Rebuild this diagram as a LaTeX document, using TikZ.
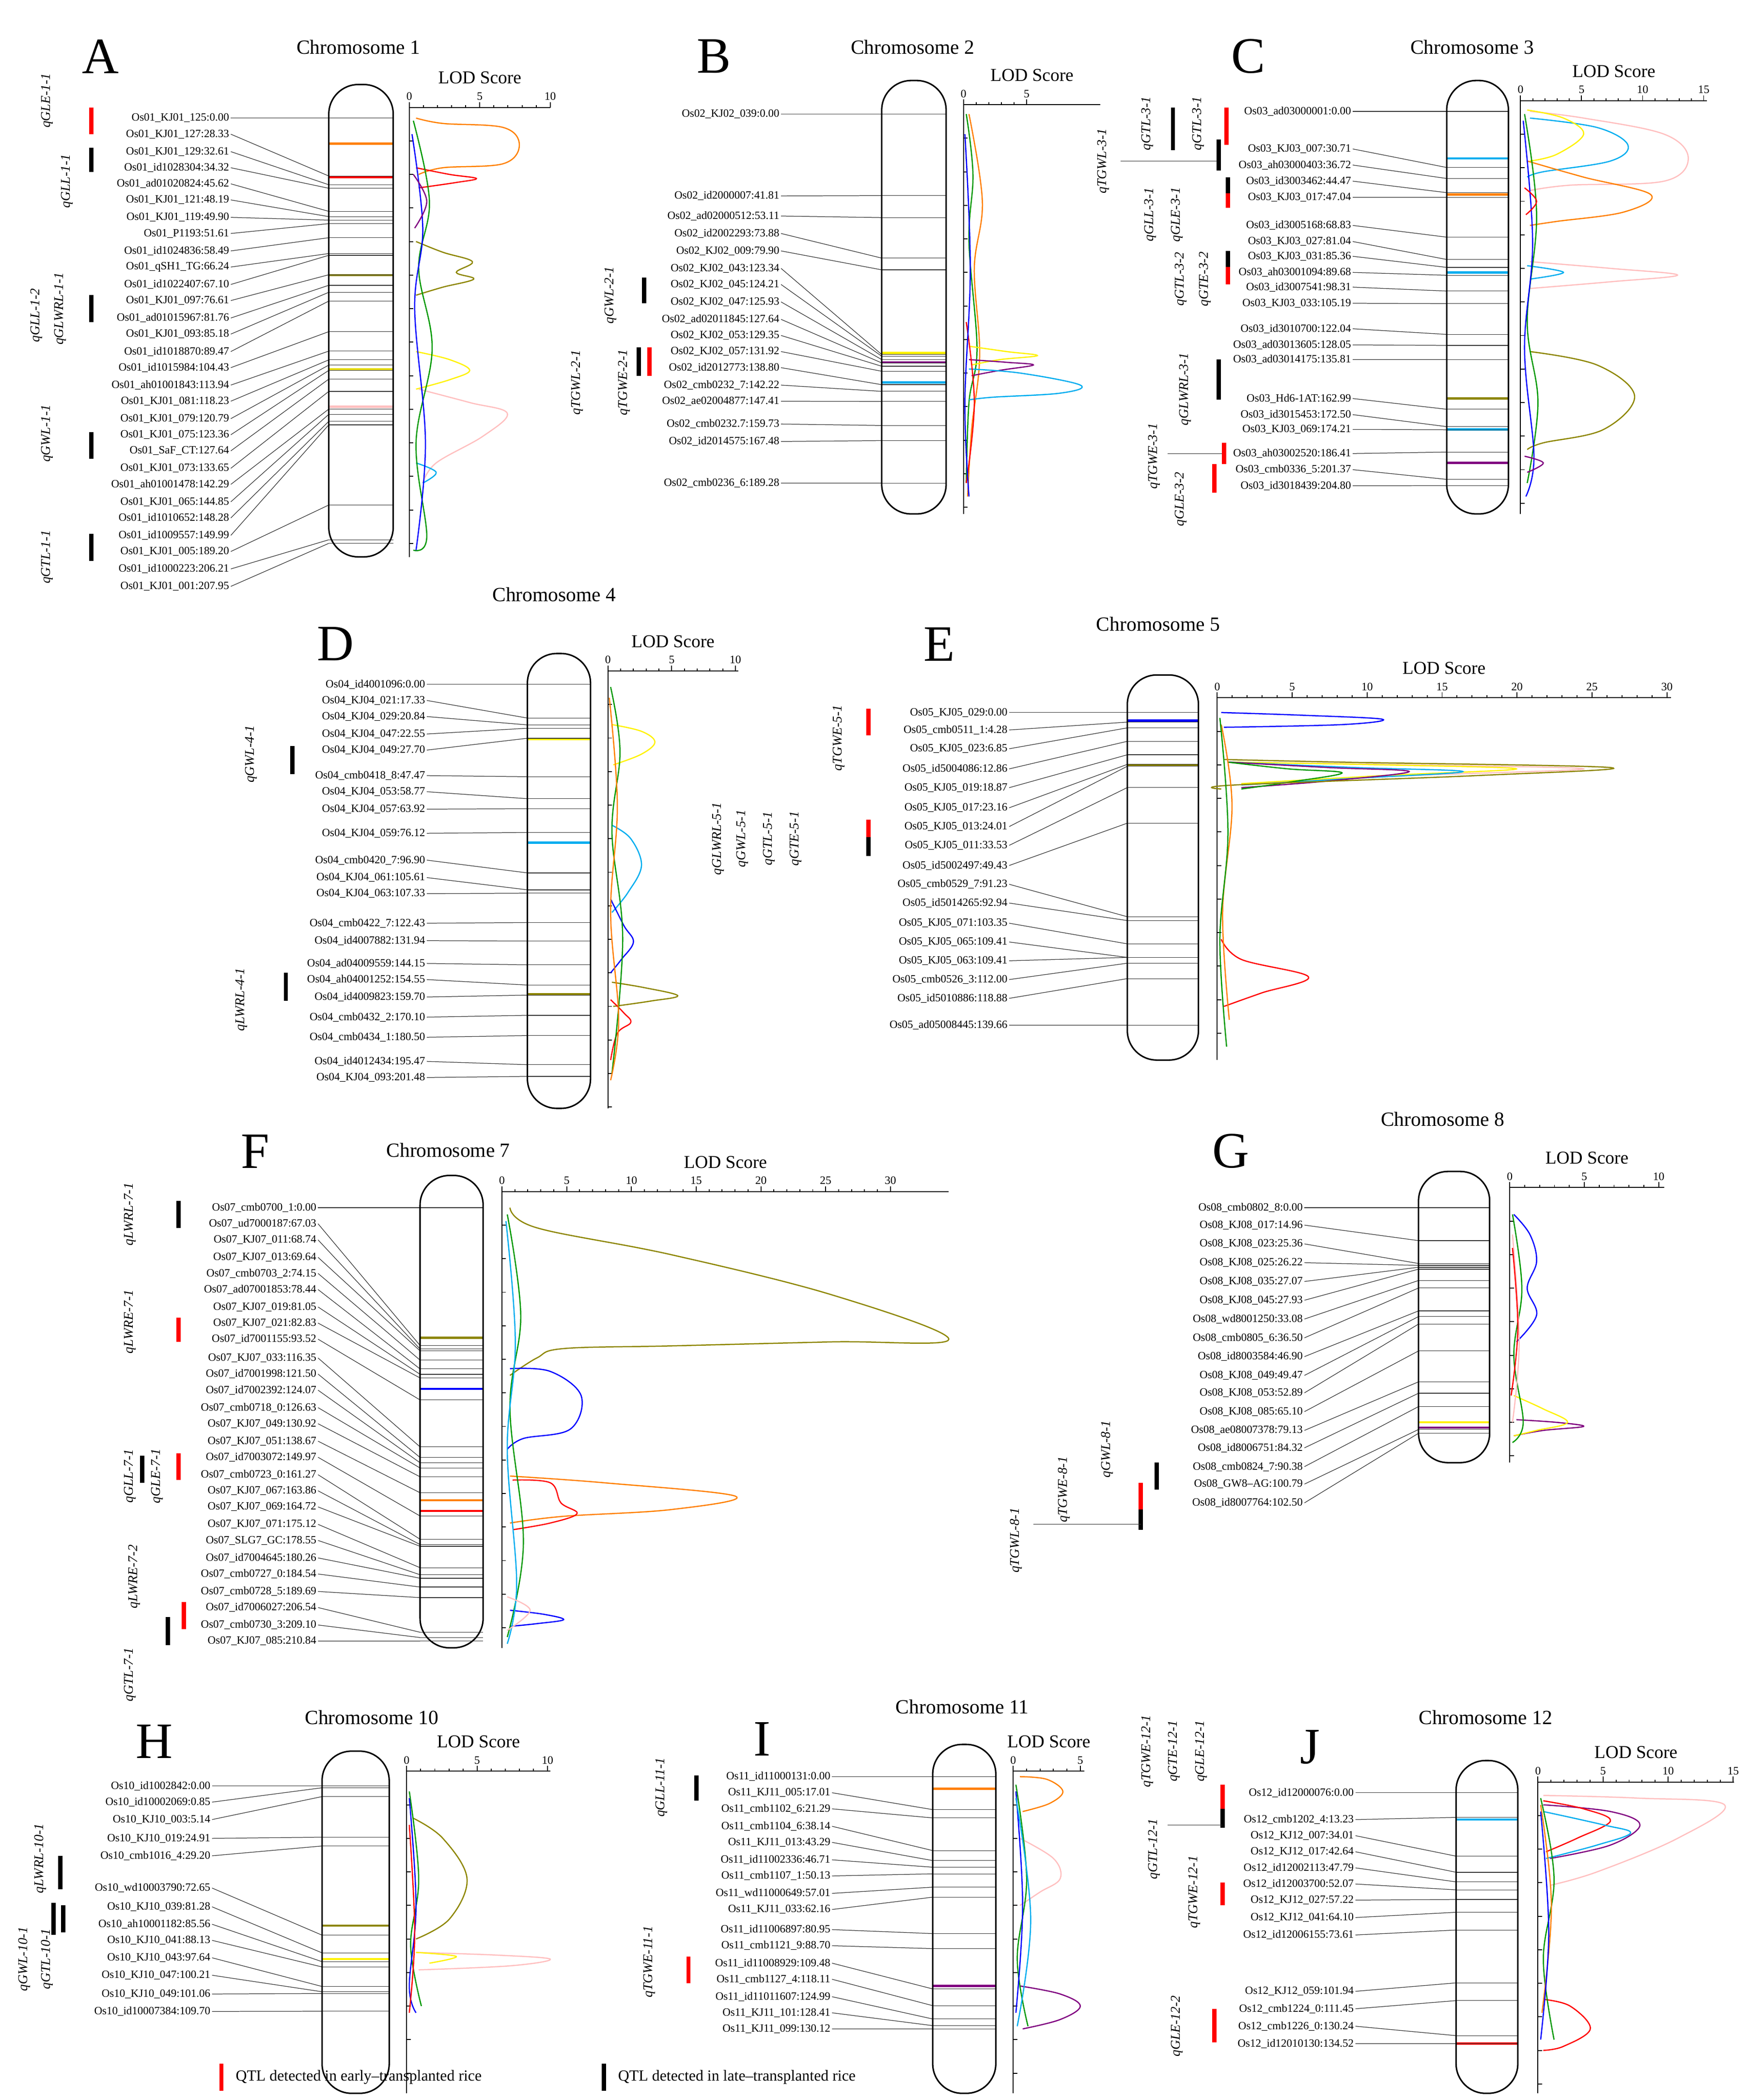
\documentclass[tikz,border=0pt]{standalone}
\usepackage{fontspec}
\setmainfont{Liberation Serif}
\usetikzlibrary{positioning}

\tikzset{every picture/.style={line width=0.6pt},
  mk/.style={anchor=east,inner sep=1pt,font=\fontsize{8.3}{9}\selectfont},
  lnk/.style={line width=0.45pt,draw=black!80},
  chr/.style={rounded corners=22pt,line width=1.1pt},
  band/.style={line width=1.6pt},
  ax/.style={line width=0.7pt},
  tk/.style={inner sep=1pt,font=\fontsize{8.5}{9}\selectfont},
  lod/.style={font=\fontsize{13.5}{14}\selectfont},
  ttl/.style={font=\fontsize{15}{16}\selectfont},
  pl/.style={font=\fontsize{38}{40}\selectfont},
  qn/.style={rotate=90,inner sep=1pt,font=\itshape\fontsize{10}{11}\selectfont},
  ebar/.style={line width=3.2pt,red},
  lbar/.style={line width=3.2pt,black},
  cv/.style={line width=0.9pt,smooth,tension=0.6}}

% marker names, link lines and chromosome lines
\newcommand{\chrmarkers}[7]{%
  \foreach \mname/\mcm/\my [count=\i] in {#7}{%
    \node[mk] (#1\i) at (#2,\my) {\mname:\mcm};
    \coordinate (#1c\i) at (#3,{#5+\mcm*#6});
    \draw[lnk] (#1\i.east) -- (#1c\i);
    \draw[lnk] (#1c\i) -- ++(#4,0);
  }}

% LOD axis: x0, y, y bottom, px per unit, last tick, x end, name
\newcommand{\lodaxis}[7]{%
  \draw[ax] (#1,#2) -- (#6,#2);
  \draw[ax] (#1,#2) -- (#1,#3);
  \foreach \t in {0,...,#5} {\draw[ax] ({#1+\t*#4},#2) -- ++(0,-1.8);}
  \foreach \t in {0,5,...,#5} {\draw[ax] ({#1+\t*#4},#2) -- ++(0,-4) node[tk,above] {\t};}
  \pgfmathtruncatemacro\nk{(#3-#2)/25}
  \foreach \k in {1,...,\nk} {\draw[ax] (#1,{#2+\k*25}) -- ++(3,0);}
  \node[lod] (#7) at ({(#1+#6)/2},{#2-22}) {LOD Score};
}

\begin{document}
\catcode`\_=12
\begin{tikzpicture}[x=1pt,y=1pt,yscale=-1]
\useasboundingbox (0,0) rectangle (1303,1565);

%%%%%%%%%% A : chromosome 1
\node[pl] (pA) at (75,42) {A};
\node[ttl] (tA) at (267,35) {Chromosome 1};
\draw[band,orange] (245,107) -- ++(48,0);
\draw[band,red] (245,132) -- ++(48,0);
\draw[band,olive] (245,205) -- ++(48,0);
\draw[band,yellow!90!black] (245,275) -- ++(48,0);
\draw[band,pink] (245,303) -- ++(48,0);
\chrmarkers{A}{172}{245}{48}{88}{1.524}{Os01_KJ01_125/0.00/88, Os01_KJ01_127/28.33/100, Os01_KJ01_129/32.61/113, Os01_id1028304/34.32/125, Os01_ad01020824/45.62/137, Os01_KJ01_121/48.19/149, Os01_KJ01_119/49.90/162, Os01_P1193/51.61/174, Os01_id1024836/58.49/187, Os01_qSH1_TG/66.24/199, Os01_id1022407/67.10/212, Os01_KJ01_097/76.61/224, Os01_ad01015967/81.76/237, Os01_KJ01_093/85.18/249, Os01_id1018870/89.47/262, Os01_id1015984/104.43/274, Os01_ah01001843/113.94/287, Os01_KJ01_081/118.23/299, Os01_KJ01_079/120.79/312, Os01_KJ01_075/123.36/324, Os01_SaF_CT/127.64/336, Os01_KJ01_073/133.65/349, Os01_ah01001478/142.29/361, Os01_KJ01_065/144.85/374, Os01_id1010652/148.28/386, Os01_id1009557/149.99/399, Os01_KJ01_005/189.20/411, Os01_id1000223/206.21/424, Os01_KJ01_001/207.95/437}
\draw[chr] (245,63) rectangle (293,415);
\lodaxis{305}{80}{415}{10.5}{10}{410}{lA}
\draw[cv,orange] plot coordinates {(310,88)(330,92)(375,95)(387,108)(375,122)(330,125)(312,130)};
\draw[cv,red] plot coordinates {(310,125)(335,130)(355,133)(340,136)(312,140)};
\draw[cv,olive] plot coordinates {(310,180)(330,188)(352,195)(340,203)(353,208)(330,214)(310,220)};
\draw[cv,yellow] plot coordinates {(310,262)(335,268)(350,276)(335,283)(310,290)};
\draw[cv,pink] plot coordinates {(312,290)(350,300)(378,308)(360,325)(325,345)(315,360)};
\draw[cv,cyan] plot coordinates {(310,345)(325,352)(315,360)};
\draw[cv,green!60!black] plot coordinates {(308,90)(320,150)(312,200)(322,260)(310,330)(318,400)(308,410)};
\draw[cv,blue] plot coordinates {(307,100)(315,170)(309,230)(317,330)(310,410)};
\draw[cv,violet] plot coordinates {(308,130)(318,150)(309,170)};
\node[qn] (qA1) at (35,75) {qGLE-1-1};
\draw[ebar] (68,80) -- (68,100);
\node[qn] (qA2) at (50,135) {qGLL-1-1};
\draw[lbar] (68,110) -- (68,128);
\node[qn] (qA3) at (27,235) {qGLL-1-2};
\node[qn] (qA4) at (45,230) {qGLWRL-1-1};
\draw[lbar] (68,220) -- (68,240);
\node[qn] (qA5) at (35,323) {qGWL-1-1};
\draw[lbar] (68,322) -- (68,342);
\node[qn] (qA6) at (35,415) {qGTL-1-1};
\draw[lbar] (68,398) -- (68,418);

%%%%%%%%%% B : chromosome 2
\node[pl] (pB) at (532,42) {B};
\node[ttl] (tB) at (680,35) {Chromosome 2};
\draw[band,yellow] (657,263) -- ++(48,0);
\draw[band,violet] (657,270) -- ++(48,0);
\draw[band,cyan] (657,285) -- ++(48,0);
\chrmarkers{B}{582}{657}{48}{85}{1.453}{Os02_KJ02_039/0.00/85, Os02_id2000007/41.81/146, Os02_ad02000512/53.11/161, Os02_id2002293/73.88/174, Os02_KJ02_009/79.90/187, Os02_KJ02_043/123.34/200, Os02_KJ02_045/124.21/212, Os02_KJ02_047/125.93/225, Os02_ad02011845/127.64/238, Os02_KJ02_053/129.35/250, Os02_KJ02_057/131.92/262, Os02_id2012773/138.80/274, Os02_cmb0232_7/142.22/287, Os02_ae02004877/147.41/299, Os02_cmb0232.7/159.73/316, Os02_id2014575/167.48/329, Os02_cmb0236_6/189.28/360}
\draw[chr] (657,60) rectangle (705,383);
\lodaxis{718}{78}{383}{9.4}{5}{820}{lB}
\draw[cv,green!60!black] plot coordinates {(720,85)(725,130)(722,180)(728,260)(722,300)(720,360)};
\draw[cv,orange] plot coordinates {(722,85)(732,150)(726,200)(730,265)(724,320)(721,370)};
\draw[cv,yellow] plot coordinates {(722,258)(750,262)(773,265)(745,268)(724,272)};
\draw[cv,violet] plot coordinates {(722,268)(750,270)(770,272)(745,276)(724,280)};
\draw[cv,cyan] plot coordinates {(722,275)(760,278)(805,287)(790,293)(740,296)(722,298)};
\draw[cv,red] plot coordinates {(720,240)(726,300)(720,360)};
\draw[cv,blue] plot coordinates {(719,100)(723,200)(719,300)(722,370)};
\node[qn] (qB1) at (455,220) {qGWL-2-1};
\draw[lbar] (480,207) -- (480,226);
\node[qn] (qB2) at (430,285) {qTGWL-2-1};
\node[qn] (qB3) at (465,285) {qTGWE-2-1};
\draw[lbar] (476,259) -- (476,280);
\draw[ebar] (484,259) -- (484,280);

%%%%%%%%%% C : chromosome 3
\node[pl] (pC) at (930,42) {C};
\node[ttl] (tC) at (1097,35) {Chromosome 3};
\draw[band,cyan] (1078,118) -- ++(46,0);
\draw[band,orange] (1078,145) -- ++(46,0);
\draw[band,cyan] (1078,203) -- ++(46,0);
\draw[band,olive] (1078,297) -- ++(46,0);
\draw[band,cyan] (1078,320) -- ++(46,0);
\draw[band,violet] (1078,345) -- ++(46,0);
\chrmarkers{C}{1008}{1078}{46}{83}{1.362}{Os03_ad03000001/0.00/83, Os03_KJ03_007/30.71/111, Os03_ah03000403/36.72/123, Os03_id3003462/44.47/135, Os03_KJ03_017/47.04/147, Os03_id3005168/68.83/168, Os03_KJ03_027/81.04/180, Os03_KJ03_031/85.36/191, Os03_ah03001094/89.68/203, Os03_id3007541/98.31/214, Os03_KJ03_033/105.19/226, Os03_id3010700/122.04/245, Os03_ad03013605/128.05/257, Os03_ad03014175/135.81/268, Os03_Hd6-1AT/162.99/297, Os03_id3015453/172.50/309, Os03_KJ03_069/174.21/320, Os03_ah03002520/186.41/338, Os03_cmb0336_5/201.37/350, Os03_id3018439/204.80/362}
\draw[chr] (1078,60) rectangle (1124,383);
\lodaxis{1133}{75}{383}{9.1}{15}{1272}{lC}
\draw[cv,pink] plot coordinates {(1140,83)(1180,88)(1240,100)(1258,118)(1240,135)(1170,138)(1140,142)};
\draw[cv,cyan] plot coordinates {(1140,88)(1190,95)(1213,108)(1200,120)(1150,128)(1138,132)};
\draw[cv,yellow] plot coordinates {(1138,82)(1165,88)(1180,100)(1160,115)(1140,120)};
\draw[cv,orange] plot coordinates {(1138,120)(1180,132)(1230,145)(1210,158)(1160,165)(1140,168)};
\draw[cv,pink] plot coordinates {(1140,195)(1200,200)(1250,205)(1200,210)(1140,215)};
\draw[cv,cyan] plot coordinates {(1138,198)(1165,203)(1140,208)};
\draw[cv,olive] plot coordinates {(1140,262)(1190,272)(1218,295)(1195,320)(1150,330)(1138,335)};
\draw[cv,green!60!black] plot coordinates {(1136,85)(1145,160)(1138,240)(1146,300)(1138,360)};
\draw[cv,blue] plot coordinates {(1135,90)(1142,180)(1136,260)(1143,340)(1137,370)};
\draw[cv,violet] plot coordinates {(1136,340)(1150,345)(1138,352)};
\draw[cv,red] plot coordinates {(1136,140)(1145,150)(1137,160)};
\node[qn] (qC1) at (855,92) {qGTL-3-1};
\draw[lbar] (874,80) -- (874,112);
\node[qn] (qC2) at (893,92) {qGTL-3-1};
\draw[ebar] (914,80) -- (914,108);
\node[qn] (qC3) at (822,120) {qTGWL-3-1};
\coordinate (cC3) at (908,120);
\draw[lnk] (835,120) -- (cC3);
\draw[lbar] (908,104) -- (908,127);
\node[qn] (qC4) at (857,160) {qGLL-3-1};
\node[qn] (qC5) at (877,160) {qGLE-3-1};
\draw[lbar] (915,132) -- (915,144);
\draw[ebar] (915,144) -- (915,155);
\node[qn] (qC6) at (880,208) {qGTL-3-2};
\node[qn] (qC7) at (898,208) {qGTE-3-2};
\draw[lbar] (915,187) -- (915,199);
\draw[ebar] (915,199) -- (915,212);
\node[qn] (qC8) at (883,290) {qGLWRL-3-1};
\draw[lbar] (908,268) -- (908,298);
\node[qn] (qC9) at (860,340) {qTGWE-3-1};
\coordinate (cC9) at (912,338);
\draw[lnk] (870,338) -- (cC9);
\draw[ebar] (912,330) -- (912,346);
\node[qn] (qC10) at (880,372) {qGLE-3-2};
\draw[ebar] (905,346) -- (905,367);

%%%%%%%%%% D : chromosome 4
\node[pl] (pD) at (250,480) {D};
\node[ttl] (tD) at (413,443) {Chromosome 4};
\draw[band,yellow] (393,551) -- ++(47,0);
\draw[band,cyan] (393,628) -- ++(47,0);
\draw[band,olive] (393,741) -- ++(47,0);
\chrmarkers{D}{318}{393}{47}{510}{1.45}{Os04_id4001096/0.00/510, Os04_KJ04_021/17.33/522, Os04_KJ04_029/20.84/534, Os04_KJ04_047/22.55/547, Os04_KJ04_049/27.70/559, Os04_cmb0418_8/47.47/578, Os04_KJ04_053/58.77/590, Os04_KJ04_057/63.92/603, Os04_KJ04_059/76.12/621, Os04_cmb0420_7/96.90/641, Os04_KJ04_061/105.61/654, Os04_KJ04_063/107.33/666, Os04_cmb0422_7/122.43/688, Os04_id4007882/131.94/701, Os04_ad04009559/144.15/718, Os04_ah04001252/154.55/730, Os04_id4009823/159.70/743, Os04_cmb0432_2/170.10/758, Os04_cmb0434_1/180.50/773, Os04_id4012434/195.47/791, Os04_KJ04_093/201.48/803}
\draw[chr] (393,487) rectangle (440,826);
\lodaxis{453}{500}{826}{9.5}{10}{550}{lD}
\draw[cv,yellow] plot coordinates {(456,540)(478,545)(488,553)(478,562)(457,570)};
\draw[cv,cyan] plot coordinates {(456,615)(470,625)(478,645)(468,665)(456,680)};
\draw[cv,blue] plot coordinates {(455,670)(465,690)(472,702)(463,715)(455,725)};
\draw[cv,olive] plot coordinates {(456,732)(480,736)(505,742)(485,746)(457,750)};
\draw[cv,red] plot coordinates {(455,745)(465,755)(470,762)(460,770)(455,790)};
\draw[cv,green!60!black] plot coordinates {(455,512)(462,560)(456,620)(464,700)(456,800)};
\draw[cv,orange] plot coordinates {(454,520)(460,600)(455,680)(461,760)(455,805)};
\node[qn] (qD1) at (187,562) {qGWL-4-1};
\draw[lbar] (218,556) -- (218,577);
\node[qn] (qD2) at (180,745) {qLWRL-4-1};
\draw[lbar] (213,725) -- (213,746);

%%%%%%%%%% E : chromosome 5
\node[pl] (pE) at (700,480) {E};
\node[ttl] (tE) at (863,465) {Chromosome 5};
\draw[band,blue] (840,537) -- ++(53,0);
\draw[band,olive] (840,570) -- ++(53,0);
\chrmarkers{E}{752}{840}{53}{531}{1.668}{Os05_KJ05_029/0.00/531, Os05_cmb0511_1/4.28/544, Os05_KJ05_023/6.85/558, Os05_id5004086/12.86/573, Os05_KJ05_019/18.87/587, Os05_KJ05_017/23.16/602, Os05_KJ05_013/24.01/616, Os05_KJ05_011/33.53/630, Os05_id5002497/49.43/645, Os05_cmb0529_7/91.23/659, Os05_id5014265/92.94/673, Os05_KJ05_071/103.35/688, Os05_KJ05_065/109.41/702, Os05_KJ05_063/109.41/716, Os05_cmb0526_3/112.00/730, Os05_id5010886/118.88/744, Os05_ad05008445/139.66/764}
\draw[chr] (840,503) rectangle (893,790);
\lodaxis{907}{520}{790}{11.17}{30}{1245}{lE}
\draw[cv,blue] plot coordinates {(910,531)(970,533)(1030,536)(1000,540)(912,542)};
\draw[cv,pink] plot coordinates {(915,568)(1050,570)(1180,573)(1050,578)(925,584)};
\draw[cv,yellow] plot coordinates {(915,568)(1030,570)(1130,573)(1030,578)(925,584)};
\draw[cv,cyan] plot coordinates {(915,568)(1010,572)(1090,575)(1010,580)(925,585)};
\draw[cv,violet] plot coordinates {(915,568)(990,572)(1050,575)(990,582)(925,587)};
\draw[cv,green!60!black] plot coordinates {(915,568)(960,573)(1000,576)(960,583)(925,588)};
\draw[cv,olive] plot coordinates {(912,566)(1000,568)(1200,572)(1100,578)(920,585)(910,588)};
\draw[cv,red] plot coordinates {(910,700)(925,715)(975,728)(940,740)(912,750)};
\draw[cv,orange] plot coordinates {(910,540)(918,600)(911,680)(916,760)};
\draw[cv,green!60!black] plot coordinates {(909,535)(915,620)(909,700)(914,780)};
\node[qn] (qE1) at (625,550) {qTGWE-5-1};
\draw[ebar] (647,528) -- (647,548);
\node[qn] (qE2) at (535,625) {qGLWRL-5-1};
\node[qn] (qE3) at (553,625) {qGWL-5-1};
\node[qn] (qE4) at (573,625) {qGTL-5-1};
\node[qn] (qE5) at (593,625) {qGTE-5-1};
\draw[ebar] (647,611) -- (647,624);
\draw[lbar] (647,624) -- (647,638);

%%%%%%%%%% F : chromosome 7
\node[pl] (pF) at (190,858) {F};
\node[ttl] (tF) at (334,857) {Chromosome 7};
\draw[band,olive] (313,997) -- ++(47,0);
\draw[band,blue] (313,1035) -- ++(47,0);
\draw[band,orange] (313,1118) -- ++(47,0);
\draw[band,red] (313,1126) -- ++(47,0);
\chrmarkers{F}{237}{313}{47}{900}{1.532}{Os07_cmb0700_1/0.00/900, Os07_ud7000187/67.03/912, Os07_KJ07_011/68.74/924, Os07_KJ07_013/69.64/937, Os07_cmb0703_2/74.15/949, Os07_ad07001853/78.44/961, Os07_KJ07_019/81.05/974, Os07_KJ07_021/82.83/986, Os07_id7001155/93.52/998, Os07_KJ07_033/116.35/1012, Os07_id7001998/121.50/1024, Os07_id7002392/124.07/1036, Os07_cmb0718_0/126.63/1049, Os07_KJ07_049/130.92/1061, Os07_KJ07_051/138.67/1074, Os07_id7003072/149.97/1086, Os07_cmb0723_0/161.27/1099, Os07_KJ07_067/163.86/1111, Os07_KJ07_069/164.72/1123, Os07_KJ07_071/175.12/1136, Os07_SLG7_GC/178.55/1148, Os07_id7004645/180.26/1161, Os07_cmb0727_0/184.54/1173, Os07_cmb0728_5/189.69/1186, Os07_id7006027/206.54/1198, Os07_cmb0730_3/209.10/1211, Os07_KJ07_085/210.84/1223}
\draw[chr] (313,876) rectangle (360,1228);
\lodaxis{374}{888}{1228}{9.65}{30}{707}{lF}
\draw[cv,olive] plot coordinates {(380,900)(400,915)(500,935)(620,965)(707,998)(620,1000)(500,1003)(420,1005)(400,1012)(380,1025)};
\draw[cv,blue] plot coordinates {(380,1020)(410,1022)(433,1040)(425,1065)(390,1072)(378,1080)};
\draw[cv,orange] plot coordinates {(380,1100)(450,1105)(548,1115)(500,1125)(420,1130)(380,1135)};
\draw[cv,red] plot coordinates {(382,1103)(410,1105)(418,1120)(430,1128)(410,1135)(382,1140)};
\draw[cv,blue] plot coordinates {(380,1200)(405,1203)(420,1207)(400,1210)(380,1212)};
\draw[cv,green!60!black] plot coordinates {(378,905)(388,980)(380,1050)(390,1150)(378,1220)};
\draw[cv,cyan] plot coordinates {(377,910)(384,1000)(378,1080)(385,1180)(378,1225)};
\draw[cv,pink] plot coordinates {(378,1190)(395,1200)(378,1215)};
\node[qn] (qF1) at (97,905) {qLWRL-7-1};
\draw[lbar] (133,895) -- (133,915);
\node[qn] (qF2) at (97,985) {qLWRE-7-1};
\draw[ebar] (133,982) -- (133,1000);
\node[qn] (qF3) at (97,1100) {qGLL-7-1};
\node[qn] (qF4) at (117,1100) {qGLE-7-1};
\draw[lbar] (106,1085) -- (106,1105);
\draw[ebar] (133,1083) -- (133,1103);
\node[qn] (qF5) at (100,1175) {qLWRE-7-2};
\draw[ebar] (137,1194) -- (137,1214);
\node[qn] (qF6) at (97,1248) {qGTL-7-1};
\draw[lbar] (125,1205) -- (125,1226);

%%%%%%%%%% G : chromosome 8
\node[pl] (pG) at (917,858) {G};
\node[ttl] (tG) at (1075,834) {Chromosome 8};
\draw[band,yellow] (1057,1060) -- ++(53,0);
\draw[band,violet] (1057,1064) -- ++(53,0);
\chrmarkers{G}{972}{1057}{53}{900}{1.64}{Os08_cmb0802_8/0.00/900, Os08_KJ08_017/14.96/913, Os08_KJ08_023/25.36/927, Os08_KJ08_025/26.22/941, Os08_KJ08_035/27.07/955, Os08_KJ08_045/27.93/969, Os08_wd8001250/33.08/983, Os08_cmb0805_6/36.50/997, Os08_id8003584/46.90/1011, Os08_KJ08_049/49.47/1025, Os08_KJ08_053/52.89/1038, Os08_KJ08_085/65.10/1052, Os08_ae08007378/79.13/1066, Os08_id8006751/84.32/1079, Os08_cmb0824_7/90.38/1093, Os08_GW8--AG/100.79/1106, Os08_id8007764/102.50/1120}
\draw[chr] (1057,873) rectangle (1110,1090);
\lodaxis{1125}{885}{1090}{11.1}{10}{1240}{lG}
\draw[cv,blue] plot coordinates {(1128,905)(1140,920)(1145,940)(1138,960)(1145,980)(1130,1000)};
\draw[cv,violet] plot coordinates {(1130,1058)(1160,1060)(1180,1063)(1150,1066)(1128,1070)};
\draw[cv,yellow] plot coordinates {(1128,1040)(1150,1050)(1168,1060)(1145,1066)(1128,1070)};
\draw[cv,green!60!black] plot coordinates {(1127,905)(1134,960)(1128,1010)(1135,1060)(1127,1075)};
\draw[cv,pink] plot coordinates {(1127,920)(1132,1000)(1127,1060)};
\draw[cv,red] plot coordinates {(1127,930)(1131,990)(1126,1040)};
\node[qn] (qG1) at (825,1080) {qGWL-8-1};
\draw[lbar] (862,1090) -- (862,1110);
\node[qn] (qG2) at (793,1110) {qTGWE-8-1};
\draw[ebar] (850,1105) -- (850,1125);
\draw[lbar] (850,1125) -- (850,1140);
\node[qn] (qG3) at (757,1148) {qTGWL-8-1};
\coordinate (cG3) at (850,1136);
\draw[lnk] (770,1136) -- (cG3);

%%%%%%%%%% H : chromosome 10
\node[pl] (pH) at (115,1298) {H};
\node[ttl] (tH) at (277,1280) {Chromosome 10};
\draw[band,olive] (240,1435) -- ++(50,0);
\draw[band,yellow] (240,1460) -- ++(50,0);
\chrmarkers{H}{158}{240}{50}{1331}{1.53}{Os10_id1002842/0.00/1331, Os10_id10002069/0.85/1343, Os10_KJ10_003/5.14/1356, Os10_KJ10_019/24.91/1370, Os10_cmb1016_4/29.20/1383, Os10_wd10003790/72.65/1407, Os10_KJ10_039/81.28/1421, Os10_ah10001182/85.56/1434, Os10_KJ10_041/88.13/1446, Os10_KJ10_043/97.64/1459, Os10_KJ10_047/100.21/1472, Os10_KJ10_049/101.06/1486, Os10_id10007384/109.70/1499}
\draw[chr] (240,1305) rectangle (290,1560);
\lodaxis{303}{1320}{1560}{10.5}{10}{410}{lH}
\draw[cv,olive] plot coordinates {(308,1355)(330,1370)(348,1400)(335,1430)(310,1445)};
\draw[cv,pink] plot coordinates {(310,1455)(370,1457)(410,1460)(380,1465)(312,1468)};
\draw[cv,yellow] plot coordinates {(310,1455)(340,1458)(320,1463)};
\draw[cv,green!60!black] plot coordinates {(305,1335)(312,1400)(306,1450)(314,1495)};
\draw[cv,blue] plot coordinates {(305,1340)(310,1420)(305,1480)(310,1500)};
\draw[cv,red] plot coordinates {(305,1360)(309,1440)(305,1500)};
\node[qn] (qH1) at (30,1385) {qLWRL-10-1};
\draw[lbar] (45,1383) -- (45,1408);
\node[qn] (qH2) at (18,1460) {qGWL-10-1};
\node[qn] (qH3) at (35,1460) {qGTL-10-1};
\draw[lbar] (40,1418) -- (40,1442);
\draw[lbar] (47,1420) -- (47,1440);

%%%%%%%%%% I : chromosome 11
\node[pl] (pI) at (568,1296) {I};
\node[ttl] (tI) at (717,1272) {Chromosome 11};
\draw[band,orange] (695,1333) -- ++(47,0);
\draw[band,violet] (695,1480) -- ++(47,0);
\chrmarkers{I}{620}{695}{47}{1324}{1.445}{Os11_id11000131/0.00/1324, Os11_KJ11_005/17.01/1336, Os11_cmb1102_6/21.29/1348, Os11_cmb1104_6/38.14/1361, Os11_KJ11_013/43.29/1373, Os11_id11002336/46.71/1386, Os11_cmb1107_1/50.13/1398, Os11_wd11000649/57.01/1411, Os11_KJ11_033/62.16/1423, Os11_id11006897/80.95/1438, Os11_cmb1121_9/88.70/1450, Os11_id11008929/109.48/1463, Os11_cmb1127_4/118.11/1475, Os11_id11011607/124.99/1488, Os11_KJ11_101/128.41/1500, Os11_KJ11_099/130.12/1512}
\draw[chr] (695,1300) rectangle (742,1560);
\lodaxis{755}{1320}{1560}{10}{5}{808}{lI}
\draw[cv,orange] plot coordinates {(760,1324)(780,1326)(792,1335)(782,1344)(762,1350)};
\draw[cv,pink] plot coordinates {(760,1370)(785,1385)(790,1400)(775,1410)(760,1420)};
\draw[cv,violet] plot coordinates {(760,1480)(790,1486)(805,1495)(790,1505)(762,1512)};
\draw[cv,green!60!black] plot coordinates {(757,1330)(765,1400)(758,1460)(766,1510)};
\draw[cv,blue] plot coordinates {(757,1335)(762,1420)(757,1500)};
\draw[cv,cyan] plot coordinates {(757,1340)(768,1430)(758,1510)};
\node[qn] (qI1) at (493,1332) {qGLL-11-1};
\draw[lbar] (519,1323) -- (519,1342);
\node[qn] (qI2) at (484,1462) {qTGWE-11-1};
\draw[ebar] (513,1458) -- (513,1478);

%%%%%%%%%% J : chromosome 12
\node[pl] (pJ) at (976,1302) {J};
\node[ttl] (tJ) at (1107,1280) {Chromosome 12};
\draw[band,cyan] (1085,1356) -- ++(46,0);
\draw[band,red] (1085,1523) -- ++(46,0);
\chrmarkers{J}{1010}{1085}{46}{1336}{1.39}{Os12_id12000076/0.00/1336, Os12_cmb1202_4/13.23/1356, Os12_KJ12_007/34.01/1368, Os12_KJ12_017/42.64/1380, Os12_id12002113/47.79/1392, Os12_id12003700/52.07/1404, Os12_KJ12_027/57.22/1416, Os12_KJ12_041/64.10/1429, Os12_id12006155/73.61/1442, Os12_KJ12_059/101.94/1484, Os12_cmb1224_0/111.45/1497, Os12_cmb1226_0/130.24/1510, Os12_id12010130/134.52/1523}
\draw[chr] (1085,1312) rectangle (1131,1560);
\lodaxis{1146}{1328}{1560}{9.7}{15}{1292}{lJ}
\draw[cv,pink] plot coordinates {(1150,1338)(1220,1340)(1285,1345)(1250,1370)(1190,1395)(1155,1405)};
\draw[cv,violet] plot coordinates {(1150,1345)(1200,1350)(1222,1360)(1200,1375)(1155,1385)};
\draw[cv,red] plot coordinates {(1150,1342)(1180,1348)(1200,1357)(1175,1370)(1152,1380)};
\draw[cv,cyan] plot coordinates {(1150,1350)(1195,1360)(1215,1366)(1190,1375)(1152,1385)};
\draw[cv,red] plot coordinates {(1150,1490)(1170,1495)(1185,1512)(1165,1525)(1150,1528)};
\draw[cv,green!60!black] plot coordinates {(1148,1340)(1158,1400)(1150,1460)(1158,1520)};
\draw[cv,orange] plot coordinates {(1148,1345)(1156,1420)(1149,1500)};
\draw[cv,blue] plot coordinates {(1148,1350)(1154,1440)(1148,1520)};
\node[qn] (qJ1) at (855,1305) {qTGWE-12-1};
\node[qn] (qJ2) at (875,1305) {qGTE-12-1};
\node[qn] (qJ3) at (895,1305) {qGLE-12-1};
\draw[ebar] (911,1330) -- (911,1348);
\draw[lbar] (911,1348) -- (911,1362);
\node[qn] (qJ4) at (860,1378) {qGTL-12-1};
\coordinate (cJ4) at (911,1360);
\draw[lnk] (870,1360) -- (cJ4);
\node[qn] (qJ5) at (890,1410) {qTGWE-12-1};
\draw[ebar] (911,1403) -- (911,1420);
\node[qn] (qJ6) at (877,1510) {qGLE-12-2};
\draw[ebar] (905,1497) -- (905,1522);

%%%%%%%%%% legend
\draw[ebar] (165,1538) -- (165,1558);
\node[anchor=west,font=\fontsize{11.5}{12}\selectfont] (legE) at (172,1548) {QTL detected in early–transplanted rice};
\draw[lbar] (450,1538) -- (450,1558);
\node[anchor=west,font=\fontsize{11.5}{12}\selectfont] (legL) at (457,1548) {QTL detected in late–transplanted rice};

\end{tikzpicture}
\end{document}
